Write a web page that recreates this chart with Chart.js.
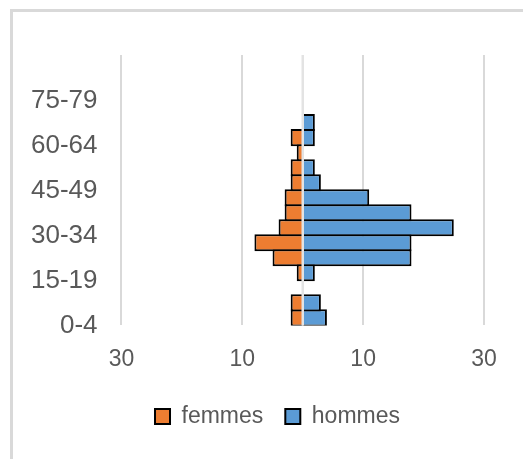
<!DOCTYPE html>
<html>
<head>
<meta charset="utf-8">
<script src="https://cdn.jsdelivr.net/npm/chart.js@4/dist/chart.umd.min.js"></script>
<style>
  html, body { margin: 0; padding: 0; background: #fff; overflow: hidden; }
  #frame { position: absolute; left: 10px; top: 9px; width: 700px; height: 700px; border: 3px solid #d9d9d9; box-sizing: border-box; }
  #wrap { position: absolute; left: 0; top: 0; width: 523px; height: 459px; }
</style>
</head>
<body>
<div id="frame"></div>
<div id="wrap"><canvas id="c"></canvas></div>
<script>
const categories = ['0-4','5-9','10-14','15-19','20-24','25-29','30-34','35-39','40-44','45-49','50-54','55-59','60-64','65-69','70-74','75-79','80-84','85+'];
const femmes = [2, 2, 0, 1, 5, 8, 4, 3, 3, 2, 2, 1, 2, 0, 0, 0, 0, 0];
const hommes = [4, 3, 0, 2, 18, 18, 25, 18, 11, 3, 2, 0, 2, 2, 0, 0, 0, 0];
const xTicks = [-30, -10, 10, 30];

const centerLine = {
  id: 'centerLine',
  afterLayout(chart) {
    const lg = chart.legend;
    if (lg) {
      const shift = 277.5 - (lg.left + lg.right) / 2;
      lg.left += shift; lg.right += shift;
    }
  },
  afterDatasetsDraw(chart) {
    const x = chart.scales.x.getPixelForValue(0);
    const a = chart.chartArea;
    const ctx = chart.ctx;
    ctx.save();
    ctx.strokeStyle = '#e3e3e3';
    ctx.lineWidth = 2.5;
    ctx.beginPath();
    ctx.moveTo(x, a.top);
    ctx.lineTo(x, a.bottom);
    ctx.stroke();
    ctx.restore();
  }
};

new Chart(document.getElementById('c'), {
  type: 'bar',
  data: {
    labels: categories,
    datasets: [
      { label: 'femmes', data: femmes.map(v => -v), backgroundColor: '#ED7D31', borderColor: '#000', borderWidth: 2, barPercentage: 1.134, categoryPercentage: 1 },
      { label: 'hommes', data: hommes, backgroundColor: '#5B9BD5', borderColor: '#000', borderWidth: 2, barPercentage: 1.134, categoryPercentage: 1 }
    ]
  },
  options: {
    indexAxis: 'y',
    responsive: true,
    maintainAspectRatio: false,
    animation: false,
    layout: { padding: { top: 55, right: 39, left: 7, bottom: 21 } },
    scales: {
      x: {
        stacked: true,
        min: -30, max: 30,
        afterBuildTicks(scale) { scale.ticks = xTicks.map(v => ({ value: v })); },
        afterFit(scale) { scale.height -= 10; },
        grid: { color: '#d9d9d9', lineWidth: 2, drawTicks: false },
        border: { display: false },
        ticks: {
          padding: 20,
          color: '#595959',
          font: { family: 'Liberation Sans, Arial, sans-serif', size: 23 },
          callback: v => Math.abs(v)
        }
      },
      y: {
        stacked: true,
        reverse: true,
        grid: { display: false, drawTicks: false },
        border: { display: false },
        ticks: {
          autoSkip: false,
          padding: 24,
          labelOffset: 8,
          color: '#595959',
          font: { family: 'Liberation Sans, Arial, sans-serif', size: 26 },
          callback: function(v, i) { return i % 3 === 0 ? this.getLabelForValue(v) : ''; }
        }
      }
    },
    plugins: {
      tooltip: { enabled: false },
      legend: {
        position: 'bottom',
        labels: {
          boxWidth: 15, boxHeight: 15, padding: 22,
          color: '#595959',
          font: { family: 'Liberation Sans, Arial, sans-serif', size: 23 }
        }
      }
    }
  },
  plugins: [centerLine]
});
</script>
</body>
</html>
